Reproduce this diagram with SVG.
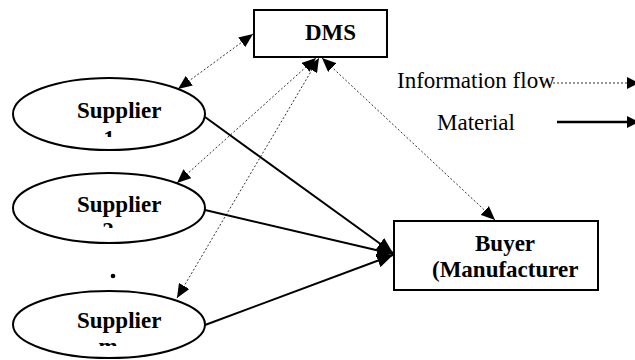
<svg xmlns="http://www.w3.org/2000/svg" width="635" height="360" viewBox="0 0 635 360">
  <style>
    .box { fill: #fff; stroke: #000; stroke-width: 2; }
    .lbl { font-family: "Liberation Serif", "Times New Roman", serif; font-size: 23px; font-weight: bold; fill: #000; }
    .leg { font-family: "Liberation Serif", "Times New Roman", serif; font-size: 23px; fill: #000; }
    .info { fill: none; stroke: #333; stroke-width: 1; stroke-dasharray: 2 2; marker-start: url(#tipI); marker-end: url(#tipI); }
    .mat { fill: none; stroke: #000; stroke-width: 2; marker-end: url(#tipM); }
  </style>
  <defs>
    <marker id="tipI" viewBox="0 0 14 12" refX="14" refY="6" markerWidth="14" markerHeight="12" markerUnits="userSpaceOnUse" orient="auto-start-reverse">
      <path d="M0,0 L14,6 L0,12 Z" fill="#000"/>
    </marker>
    <marker id="tipM" viewBox="0 0 16 14" refX="16" refY="7" markerWidth="16" markerHeight="14" markerUnits="userSpaceOnUse" orient="auto">
      <path d="M0,0 L16,7 L0,14 Z" fill="#000"/>
    </marker>
    <marker id="tipL" viewBox="0 0 12 12" refX="12" refY="6" markerWidth="12" markerHeight="12" markerUnits="userSpaceOnUse" orient="auto">
      <path d="M0,0 L12,6 L0,12 Z" fill="#000"/>
    </marker>
    <clipPath id="cut1"><rect x="90" y="120" width="40" height="17"/></clipPath>
    <clipPath id="cut2"><rect x="90" y="214" width="40" height="14"/></clipPath>
    <clipPath id="cutm"><rect x="90" y="335" width="40" height="11"/></clipPath>
  </defs>

  <!-- connectors -->
  <g id="connectors">
    <!-- information flows (two-way, dotted) -->
    <line class="info" x1="178" y1="89" x2="253" y2="34"/>
    <line class="info" x1="177" y1="183" x2="316" y2="58"/>
    <line class="info" x1="177" y1="298" x2="319" y2="58"/>
    <line class="info" x1="322" y1="58" x2="495" y2="220"/>
    <!-- material flows (solid) -->
    <line class="mat" x1="205" y1="117" x2="393" y2="253"/>
    <line class="mat" x1="205" y1="210" x2="393" y2="254"/>
    <line class="mat" x1="205" y1="325" x2="393" y2="255"/>
  </g>

  <!-- legend -->
  <g id="legend">
    <text class="leg" x="397" y="88">Information flow</text>
    <line x1="553" y1="83" x2="639" y2="83" stroke="#333" stroke-width="1" stroke-dasharray="2 2" marker-end="url(#tipL)"/>
    <text class="leg" x="437" y="130">Material</text>
    <line x1="557" y1="122" x2="639" y2="122" stroke="#000" stroke-width="2.5" marker-end="url(#tipL)"/>
  </g>

  <g id="dms">
    <rect class="box" x="254" y="10" width="133" height="47"/>
    <text class="lbl" x="305" y="40">DMS</text>
  </g>

  <g id="supplier1">
    <ellipse class="box" cx="109" cy="114" rx="96" ry="36"/>
    <text class="lbl" x="77" y="118">Supplier</text>
    <text class="lbl" x="109" y="145.5" text-anchor="middle" clip-path="url(#cut1)">1</text>
  </g>

  <g id="supplier2">
    <ellipse class="box" cx="109" cy="208" rx="96" ry="35"/>
    <text class="lbl" x="77" y="212">Supplier</text>
    <text class="lbl" x="108" y="237.5" text-anchor="middle" clip-path="url(#cut2)">2</text>
  </g>

  <g id="ellipsis">
    <circle cx="113" cy="276" r="2.3" fill="#000"/>
  </g>

  <g id="supplierm">
    <ellipse class="box" cx="109" cy="324.5" rx="96" ry="33.5"/>
    <text class="lbl" x="77" y="328">Supplier</text>
    <text class="lbl" x="108" y="353.5" text-anchor="middle" clip-path="url(#cutm)">m</text>
  </g>

  <g id="buyer">
    <rect class="box" x="394" y="221" width="204" height="69"/>
    <text class="lbl" x="475" y="251">Buyer</text>
    <text class="lbl" x="432" y="277">(Manufacturer</text>
  </g>
</svg>
